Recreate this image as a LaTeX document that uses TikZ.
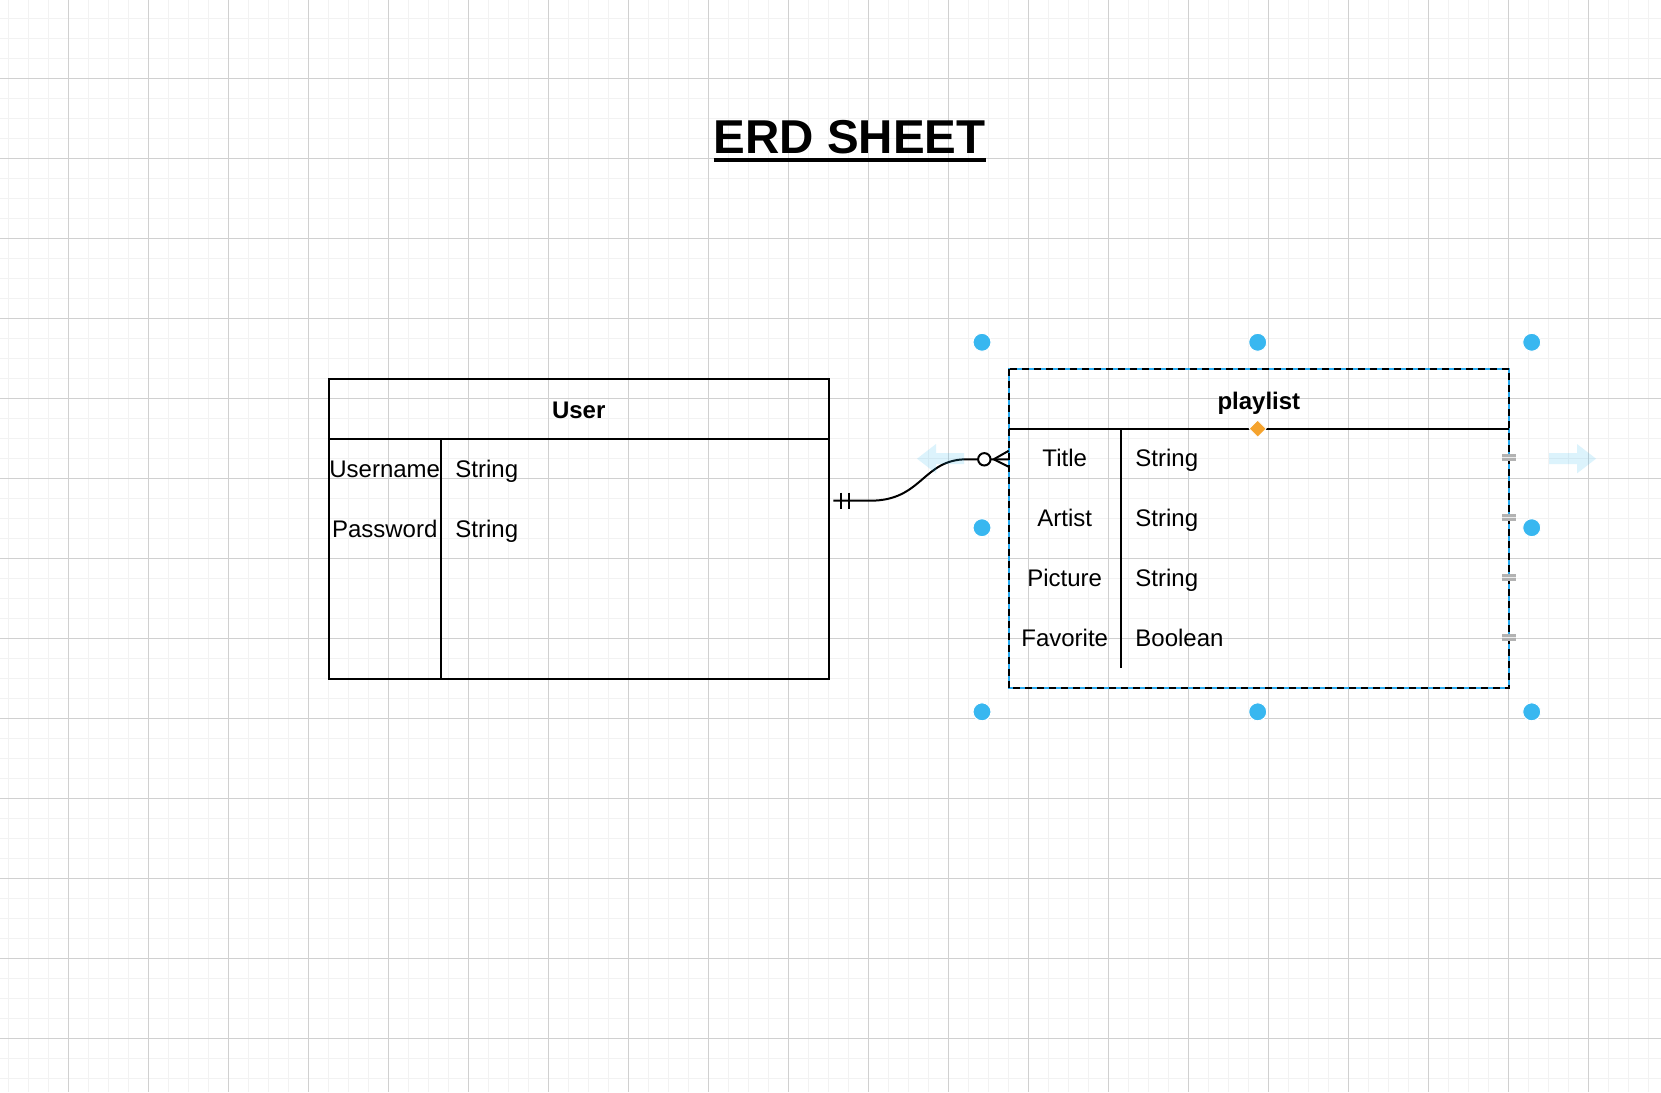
\documentclass[tikz,border=0pt]{standalone}
\usepackage{fontspec}
\setmainfont{Liberation Sans}
\usetikzlibrary{calc}
\definecolor{gridminor}{RGB}{242,242,242}
\definecolor{gridmajor}{RGB}{208,208,208}
\definecolor{selblue}{RGB}{41,170,240}
\definecolor{handleblue}{RGB}{56,183,240}
\definecolor{hoverblue}{RGB}{41,182,242}
\definecolor{diamondorange}{RGB}{245,163,45}
\tikzset{
  entbox/.style={draw=black, line width=2pt, inner sep=0pt, outer sep=0pt},
  entline/.style={draw=black, line width=2pt},
  hdrtext/.style={font=\fontsize{24}{28}\selectfont\bfseries, inner sep=0pt, anchor=base},
  keytext/.style={font=\fontsize{24}{28}\selectfont, inner sep=0pt, anchor=base},
  valtext/.style={font=\fontsize{24}{28}\selectfont, inner sep=0pt, anchor=base west},
  conn/.style={draw=black, line width=2pt},
  handle/.style={fill=handleblue, draw=white, line width=1pt},
  hoverarrow/.style={fill=hoverblue, fill opacity=0.16},
  portmark/.style={fill=gray!55, draw=none},
}
\begin{document}
\begin{tikzpicture}[x=1pt,y=-1pt]
\useasboundingbox (0,0) rectangle (1661,1092);
\fill[white] (0,0) rectangle (1661,1092);
% grid
\foreach \i in {0,...,82} \draw[gridminor, line width=1.6pt] ({8.3+20*\i},0) -- ({8.3+20*\i},1092);
\foreach \i in {0,...,53} \draw[gridminor, line width=1.6pt] (0,{18.3+20*\i}) -- (1661,{18.3+20*\i});
\foreach \i in {0,...,19} \draw[gridmajor, line width=1pt] ({68.3+80*\i},0) -- ({68.3+80*\i},1092);
\foreach \i in {0,...,12} \draw[gridmajor, line width=1pt] (0,{78.3+80*\i}) -- (1661,{78.3+80*\i});

% title
\node[font=\fontsize{47.5}{56}\selectfont\bfseries, inner sep=0pt, anchor=base] (title) at (849.7,153.3) {ERD SHEET};
\draw[black, line width=3.5pt] ($(title.base west)+(0,6.8)$) -- ($(title.base east)+(0,6.8)$);

% User entity
\node[entbox, minimum width=500pt, minimum height=299.7pt, anchor=north west] (user) at (328.7,379.3) {};
\draw[entline] ($(user.north west)+(0,59.4)$) -- ($(user.north east)+(0,59.4)$);
\draw[entline] ($(user.north west)+(112,59.4)$) -- ($(user.south west)+(112,0)$);
\node[hdrtext] (userhdr) at ($(user.north)+(0,39.2)$) {User};
\node[keytext] (uk1) at ($(user.north west)+(56,98)$) {Username};
\node[keytext] (uk2) at ($(user.north west)+(56,157.7)$) {Password};
\node[valtext] (uv1) at ($(user.north west)+(126.5,98)$) {String};
\node[valtext] (uv2) at ($(user.north west)+(126.5,157.7)$) {String};

% playlist entity (selected)
\node[entbox, draw=selblue, minimum width=500.3pt, minimum height=319.6pt, anchor=north west] (pl) at (1008.7,368.7) {};
\draw[black, line width=2pt, dash pattern=on 7pt off 5pt] (pl.north west) rectangle (pl.south east);
\draw[entline] ($(pl.north west)+(0,60)$) -- ($(pl.north east)+(0,60)$);
\draw[entline] ($(pl.north west)+(112,60)$) -- ($(pl.north west)+(112,299.6)$);
\node[hdrtext] (plhdr) at ($(pl.north)+(0,40.3)$) {playlist};
\node[keytext] (pk1) at ($(pl.north west)+(56,98)$) {Title};
\node[keytext] (pk2) at ($(pl.north west)+(56,158)$) {Artist};
\node[keytext] (pk3) at ($(pl.north west)+(56,218)$) {Picture};
\node[keytext] (pk4) at ($(pl.north west)+(56,278)$) {Favorite};
\node[valtext] (pv1) at ($(pl.north west)+(126.5,98)$) {String};
\node[valtext] (pv2) at ($(pl.north west)+(126.5,158)$) {String};
\node[valtext] (pv3) at ($(pl.north west)+(126.5,218)$) {String};
\node[valtext] (pv4) at ($(pl.north west)+(126.5,278)$) {Boolean};

% port markers on right edge
\foreach \k in {0,1,2,3} {
  \fill[gray!60] ($(pl.north east)+(-7,{85.3+60*\k})$) rectangle ($(pl.north east)+(7,{91.9+60*\k})$);
  \draw[white!85!gray, line width=1.6pt] ($(pl.north east)+(-7,{88.6+60*\k})$) -- ($(pl.north east)+(7,{88.6+60*\k})$);
}

% connector
\coordinate (ca) at ($(user.north east)+(4.6,121.4)$);
\coordinate (cb) at ($(pl.north west)+(0,90.6)$);
\draw[conn] (ca) -- ($(ca)+(37,0)$) .. controls ($(ca)+(89,0)$) and ($(cb)+(-86,0)$) .. ($(cb)+(-42,0)$) -- (cb);
\draw[conn] ($(ca)+(7.4,-8)$) -- ($(ca)+(7.4,8)$);
\draw[conn] ($(ca)+(16,-8)$) -- ($(ca)+(16,8)$);
\draw[conn] ($(cb)+(-15,0)$) -- ($(cb)+(0,-8.5)$);
\draw[conn] ($(cb)+(-15,0)$) -- ($(cb)+(0,7.5)$);
\draw[conn, fill=white] ($(cb)+(-24.4,0)$) circle (6.2);

% hover arrows
\fill[hoverarrow] (917,458.7) -- (936,444) -- (936,453.2) -- (964,453.2) -- (964,464.2) -- (936,464.2) -- (936,473.4) -- cycle;
\fill[hoverarrow] (1596,458.7) -- (1577,444) -- (1577,453.2) -- (1549,453.2) -- (1549,464.2) -- (1577,464.2) -- (1577,473.4) -- cycle;

% selection handles
\foreach \hx/\hy in {982/342.3, 1257.7/342.3, 1531.7/342.3, 982/527.7, 1531.7/527.7, 982/711.8, 1257.7/711.8, 1531.7/711.8}
  \filldraw[handle] (\hx,\hy) circle (9);
\filldraw[fill=diamondorange, draw=white, line width=0.8pt] (1257.7,420.2) -- (1266.2,428.7) -- (1257.7,437.2) -- (1249.2,428.7) -- cycle;
\end{tikzpicture}
\end{document}
